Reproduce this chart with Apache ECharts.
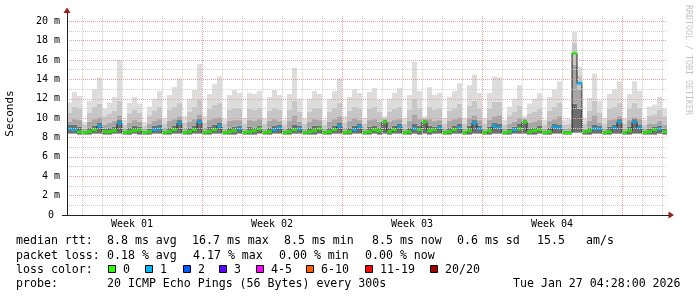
<!DOCTYPE html>
<html><head><meta charset="utf-8">
<script src="https://cdn.jsdelivr.net/npm/echarts@6/dist/echarts.min.js"></script>
<style>html,body{margin:0;padding:0;background:#fff}#c{width:697px;height:297px}</style>
</head><body><div id="c"></div>
<script>
// ---- data (ms), one sample per 6 hours, 30 days ----
const maxV = [11.6,12.7,12.3,
 9.6,11.8,13.0,14.2, 11.0,11.6,12.2,16.0, 9.8,11.6,12.2,11.5, 9.6,11.2,12.0,12.8,
 10.0,12.4,13.2,14.1, 10.2,12.0,12.9,15.6, 10.2,12.5,13.5,14.3, 9.9,12.4,12.9,12.6,
 10.0,12.6,12.5,12.8, 10.0,12.2,12.9,12.4, 9.8,12.5,15.2,12.0, 10.0,12.0,12.8,12.5,
 9.8,12.0,12.8,14.1, 10.2,12.2,13.0,12.6, 10.0,12.7,13.1,11.9, 10.2,12.0,12.6,13.1,
 10.0,12.4,15.8,12.8, 10.2,13.2,12.4,12.6, 10.0,12.2,12.8,13.6, 10.0,13.4,14.5,12.6,
 10.0,12.6,14.3,14.2, 9.8,11.2,12.0,13.4, 10.2,11.5,12.0,12.6, 9.8,12.2,13.0,13.8,
 9.8,9.9,18.9,15.3, 10.0,12.1,14.6,11.8, 10.0,12.5,13.0,13.8, 10.0,12.5,13.8,12.8,
 9.8,11.2,11.4,12.2, 11.0];
const q3 = [10.6,11.2,11.0,
 9.3,10.6,11.2,11.5, 10.2,10.5,10.8,11.8, 9.3,10.5,10.9,10.6, 9.2,10.3,10.8,11.2,
 9.4,10.9,11.2,11.6, 9.5,10.7,11.2,11.9, 9.5,11.0,11.4,11.6, 9.4,10.9,11.1,11.0,
 9.4,11.0,10.9,11.1, 9.4,10.8,11.1,10.9, 9.3,10.9,11.8,10.7, 9.4,10.7,11.1,11.0,
 9.3,10.7,11.1,11.6, 9.5,10.8,11.2,11.0, 9.4,11.0,11.2,10.7, 10.0,10.7,11.0,11.2,
 9.4,10.9,12.0,11.1, 10.0,11.2,10.9,11.0, 9.4,10.8,11.1,11.5, 9.4,11.3,11.8,11.0,
 9.4,11.0,11.7,11.7, 9.3,10.3,10.7,11.3, 10.0,10.5,10.7,11.0, 9.3,10.8,11.2,11.6,
 9.3,9.4,17.8,14.4, 9.4,10.8,11.8,10.6, 9.4,11.0,11.2,11.6, 9.4,11.0,11.6,11.1,
 9.3,10.3,10.4,10.9, 10.2];
const q2 = [9.6,9.9,9.8,
 8.9,9.6,9.9,10.1, 9.3,9.5,9.7,10.3, 8.9,9.5,9.8,9.6, 8.9,9.4,9.7,9.9,
 9.0,9.7,9.9,10.2, 9.0,9.6,9.9,10.4, 9.0,9.8,10.0,10.1, 8.9,9.7,9.8,9.8,
 8.9,9.8,9.7,9.9, 8.9,9.7,9.9,9.7, 8.9,9.7,10.3,9.6, 8.9,9.6,9.9,9.8,
 8.9,9.6,9.9,10.2, 9.0,9.7,10.0,9.8, 8.9,9.8,9.9,9.6, 9.9,9.6,9.8,9.9,
 8.9,9.7,10.4,9.9, 9.9,9.9,9.7,9.8, 8.9,9.7,9.9,10.1, 8.9,10.0,10.3,9.8,
 8.9,9.8,10.2,10.3, 8.9,9.4,9.6,10.0, 9.9,9.5,9.6,9.8, 8.9,9.7,9.9,10.2,
 8.9,9.0,15.5,13.0, 8.9,9.7,10.3,9.5, 8.9,9.8,9.9,10.2, 8.9,9.8,10.1,9.9,
 8.9,9.4,9.4,9.7, 9.3];
const q1 = [9.3,9.3,9.1,
 8.7,9.0,9.2,9.5, 8.9,9.0,9.1,9.8, 8.7,9.0,9.2,9.1, 8.7,8.9,9.2,9.3,
 8.7,9.0,9.2,9.8, 8.7,9.0,9.2,9.9, 8.7,9.1,9.3,9.5, 8.7,9.0,9.1,9.2,
 8.7,9.1,9.0,9.2, 8.7,9.0,9.2,9.3, 8.7,9.0,9.3,9.2, 8.7,9.0,9.2,9.2,
 8.7,9.0,9.2,9.5, 8.7,9.0,9.2,9.4, 8.7,9.1,9.2,9.0, 9.8,9.0,9.2,9.4,
 8.7,9.0,9.4,9.2, 9.8,9.2,9.1,9.3, 8.7,9.0,9.2,9.4, 8.7,9.2,9.8,9.2,
 8.7,9.1,9.5,9.4, 8.7,8.9,9.1,9.4, 9.8,8.9,9.0,9.2, 8.7,9.0,9.4,9.3,
 8.7,8.7,11.5,11.0, 8.8,9.0,9.3,9.2, 8.7,9.1,9.3,9.9, 8.7,9.1,9.9,9.3,
 8.7,8.9,9.1,9.2, 8.9];
const minV = [8.4,8.4,8.3,
 8.3,8.3,8.4,8.4, 8.3,8.3,8.4,8.4, 8.3,8.3,8.4,8.3, 8.3,8.3,8.4,8.4,
 8.3,8.3,8.4,8.4, 8.3,8.3,8.4,8.4, 8.3,8.3,8.4,8.4, 8.3,8.3,8.3,8.4,
 8.3,8.3,8.3,8.4, 8.3,8.3,8.4,8.4, 8.3,8.3,8.4,8.4, 8.3,8.3,8.3,8.4,
 8.3,8.3,8.4,8.4, 8.3,8.3,8.4,8.4, 8.3,8.3,8.4,8.3, 8.4,8.3,8.4,8.4,
 8.3,8.3,8.4,8.3, 8.4,8.3,8.4,8.4, 8.3,8.3,8.4,8.4, 8.3,8.3,8.4,8.4,
 8.3,8.3,8.4,8.4, 8.3,8.3,8.4,8.4, 8.4,8.3,8.3,8.4, 8.3,8.3,8.4,8.4,
 8.3,8.3,8.5,8.5, 8.3,8.3,8.4,8.4, 8.3,8.3,8.4,8.4, 8.3,8.3,8.4,8.4,
 8.3,8.3,8.3,8.4, 8.3];
const median = [8.9,8.8,8.6,
 8.5,8.6,8.8,9.2, 8.6,8.6,8.7,9.5, 8.5,8.6,8.7,8.8, 8.5,8.6,8.8,8.9,
 8.5,8.6,8.8,9.5, 8.5,8.6,8.8,9.6, 8.5,8.6,8.8,9.2, 8.5,8.6,8.7,8.9,
 8.5,8.6,8.7,8.9, 8.5,8.6,8.8,9.0, 8.5,8.6,8.8,8.9, 8.5,8.6,8.7,8.9,
 8.5,8.6,8.8,9.2, 8.5,8.6,8.8,9.1, 8.5,8.6,8.8,8.7, 9.6,8.6,8.8,9.1,
 8.5,8.6,8.9,8.8, 9.6,8.7,8.8,9.0, 8.5,8.6,8.8,9.0, 8.5,8.7,9.5,8.9,
 8.5,8.7,9.2,9.0, 8.5,8.6,8.8,8.9, 9.6,8.6,8.7,8.8, 8.5,8.6,9.1,9.0,
 8.5,8.5,16.7,13.6, 8.6,8.7,8.9,8.9, 8.5,8.6,9.0,9.6, 8.5,8.7,9.6,9.0,
 8.5,8.6,8.8,8.9, 8.6];
const loss = [1,1,0,
 0,0,0,1, 0,0,0,1, 0,0,0,0, 0,0,1,1,
 0,0,0,1, 0,0,0,1, 0,0,0,1, 0,0,0,1,
 0,0,0,0, 0,0,1,1, 0,0,0,1, 0,0,0,0,
 0,0,0,1, 0,0,1,1, 0,0,0,0, 0,0,0,1,
 0,0,1,0, 0,0,0,1, 0,0,0,1, 0,0,1,1,
 0,0,1,1, 0,0,1,0, 0,0,0,0, 0,0,1,1,
 0,0,0,1, 0,0,1,1, 0,0,1,1, 0,0,1,1,
 0,0,0,1, 0];
// axis ticks / labels
const yMajor = [2,4,6,8,10,12,14,16,18,20];
const yMinor = [1,3,5,7,9,11,13,15,17,19];
const yLabels = [0,2,4,6,8,10,12,14,16,18,20];
const dayLines = [1,2,3,4,5,6,8,9,10,11,12,13,15,16,17,18,19,20,22,23,24,25,26,27,29,30];
const weekLines = [7,14,21,28];
const weekCenters = [3.5,10.5,17.5,24.5];
const weekNames = ['Week 01','Week 02','Week 03','Week 04'];
const lossColors = ['#26ff00','#00b8ff','#0059ff','#5e00ff','#ff00ff','#ff5e00','#ff0000','#a10000'];
const lossNames = ['0','1','2','3','4-5','6-10','11-19','20/20'];

// categories: 6-hour slots starting Mon Dec 29 2025 06:00 (u = 0.25 day)
const categories = [];
for (let i = 0; i < maxV.length; i++) categories.push('slot' + i);

const diff = (a, b) => a.map((v, i) => Math.max(0, v - b[i]));
const c1 = q1.map((v,i)=>Math.max(v, minV[i]));
const c2 = q2.map((v,i)=>Math.max(v, c1[i]));
const c3 = q3.map((v,i)=>Math.max(v, c2[i]));
const c4 = maxV.map((v,i)=>Math.max(v, c3[i]));

const MONO = '"DejaVu Sans Mono", monospace';
const chart = echarts.init(document.getElementById('c'), null, {renderer:'canvas'});

function bar(name, data, color) {
  return {type:'bar', name, data, stack:'smoke', xAxisIndex:0, yAxisIndex:0,
    barCategoryGap:'0%', barGap:'0%', silent:true,
    itemStyle:{color, borderWidth:0}, animation:false, z:2};
}

const gridDot = (v, axis, color) => ({[axis]: v, lineStyle:{color, type:[1,1], width:1}});

const series = [
  bar('base', minV, 'rgba(0,0,0,0)'),
  bar('b1', diff(c1, minV), '#6e6e6e'),
  bar('b2', diff(c2, c1), '#a6a6a6'),
  bar('b3', diff(c3, c2), '#c6c6c6'),
  bar('b4', diff(c4, c3), '#dddddd'),
  {type:'line', name:'medline', data: median, xAxisIndex:0, yAxisIndex:0, step:'middle',
   symbol:'none', lineStyle:{color:'#202020', width:1}, silent:true, animation:false, z:3},
  {type:'scatter', name:'median', data: median, xAxisIndex:0, yAxisIndex:0,
   symbol:'rect', symbolSize:[5,3], silent:true, animation:false, z:4,
   itemStyle:{color: p => lossColors[loss[p.dataIndex]]}},
  {type:'line', name:'grid', data: [], xAxisIndex:1, yAxisIndex:0, silent:true, animation:false, z:5,
   markLine:{silent:true, symbol:['none','none'], label:{show:false}, animation:false,
     data: [].concat(
       yMinor.map(v=>gridDot(v,'yAxis','#cfcfcf')),
       dayLines.map(v=>gridDot(v,'xAxis','#cfcfcf')),
       yMajor.map(v=>gridDot(v,'yAxis','#e8a0a0')),
       weekLines.map(v=>gridDot(v,'xAxis','#e8a0a0'))
     )}}
];

const legendRows = [
  {y:241, items:[[16,'median rtt:'],[107,'8.8 ms avg'],[192,'16.7 ms max'],[284,'8.5 ms min'],[372,'8.5 ms now'],[457,'0.6 ms sd'],[537,'15.5'],[586,'am/s']]},
  {y:255.5, items:[[16,'packet loss:'],[107,'0.18 % avg'],[193,'4.17 % max'],[279,'0.00 % min'],[365,'0.00 % now']]},
  {y:269.5, items:[[16,'loss color:']]},
  {y:284, items:[[16,'probe:'],[107,'20 ICMP Echo Pings (56 Bytes) every 300s'],[513,'Tue Jan 27 04:28:00 2026']]}
];
const boxX = [108,145,183,219,256,306,365,430];
const graphics = [];
legendRows.forEach(r => r.items.forEach(([x,t]) => graphics.push({type:'text', x, y:r.y, silent:true,
  style:{text:t, font:'11.6px ' + MONO, fill:'#000', align:'left', verticalAlign:'middle'}})));
boxX.forEach((x,i) => {
  graphics.push({type:'rect', shape:{x:x+0.5, y:265.5, width:7, height:7}, silent:true,
    style:{fill:lossColors[i], stroke:'#000', lineWidth:1}});
  graphics.push({type:'text', x:x+15, y:269.5, silent:true,
    style:{text:lossNames[i], font:'11.6px ' + MONO, fill:'#000', align:'left', verticalAlign:'middle'}});
});
graphics.push({type:'text', x:10, y:113.5, rotation:Math.PI/2, silent:true,
  style:{text:'Seconds', font:'11px ' + MONO, fill:'#000', align:'center', verticalAlign:'middle'}});
graphics.push({type:'text', x:688, y:60, rotation:-Math.PI/2, silent:true,
  style:{text:'RRDTOOL / TOBI OETIKER', font:'8.3px ' + MONO, fill:'#c4c4c4', align:'center', verticalAlign:'middle'}});
// axis arrows + small axis extensions
graphics.push({type:'polygon', shape:{points:[[63.5,13],[70.5,13],[67,7.5]]}, silent:true, style:{fill:'#9b1c1c'}});
graphics.push({type:'polygon', shape:{points:[[668.5,211.5],[668.5,218.5],[674,215]]}, silent:true, style:{fill:'#9b1c1c'}});
graphics.push({type:'line', shape:{x1:62, y1:215.5, x2:67, y2:215.5}, silent:true, style:{stroke:'#222', lineWidth:1}});
graphics.push({type:'line', shape:{x1:67.5, y1:13, x2:67.5, y2:15}, silent:true, style:{stroke:'#222', lineWidth:1}});
graphics.push({type:'line', shape:{x1:667, y1:215.5, x2:669, y2:215.5}, silent:true, style:{stroke:'#222', lineWidth:1}});

chart.setOption({
  animation:false,
  backgroundColor:'#ffffff',
  grid:{left:67, top:15, width:600, height:200, outerBoundsMode:'none'},
  xAxis:[
    {type:'category', data:categories, boundaryGap:true, show:false, position:'bottom'},
    {type:'value', min:0.25, max:30.25, z:10, position:'bottom',
     axisLine:{show:true, onZero:false, lineStyle:{color:'#222', width:1}},
     axisTick:{show:false}, splitLine:{show:false},
     axisLabel:{customValues:weekCenters, margin:4, color:'#000', fontFamily:MONO, fontSize:10,
       formatter: v => { const i = weekCenters.indexOf(v); return i >= 0 ? weekNames[i] : ''; }}}
  ],
  yAxis:{type:'value', min:0, max:20.65, interval:2, z:10,
    axisLine:{show:true, lineStyle:{color:'#222', width:1}},
    axisTick:{show:false}, splitLine:{show:false},
    axisLabel:{margin:7, color:'#000', fontFamily:MONO, fontSize:10, showMaxLabel:false,
      formatter: v => yLabels.indexOf(v) < 0 ? '' : (v === 0 ? '0 ' : v + ' m')}},
  series,
  graphic:{elements:graphics}
});
</script></body></html>
